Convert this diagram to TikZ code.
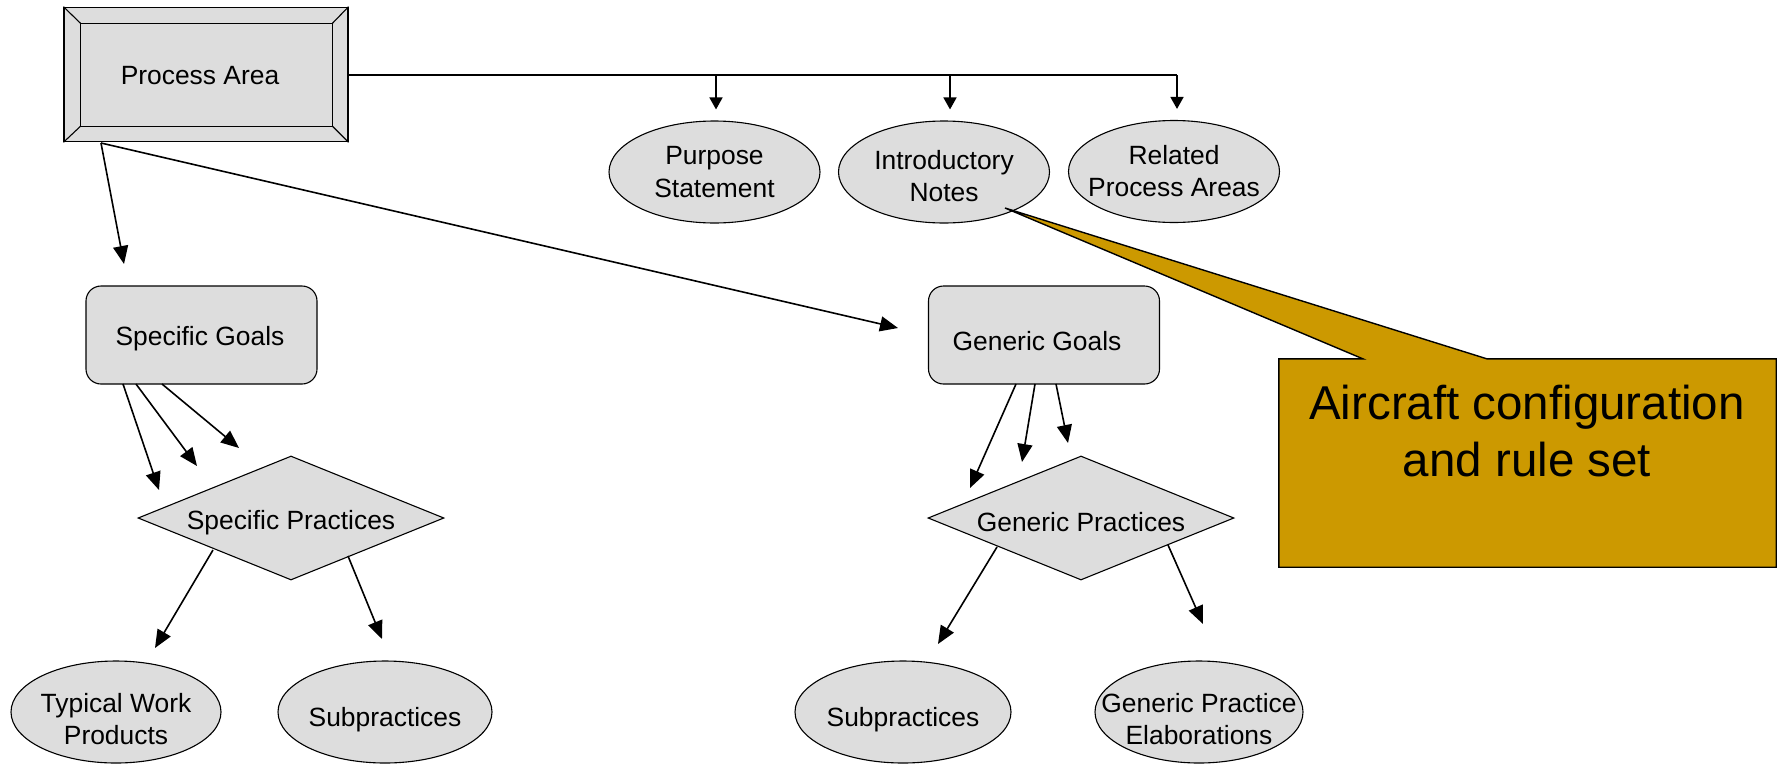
\documentclass[tikz,border=0pt]{standalone}
\usepackage{fontspec}
\setmainfont{Liberation Sans}
\usetikzlibrary{arrows.meta,shapes.geometric,calc}
\definecolor{boxgray}{RGB}{221,221,221}
\definecolor{calloutgold}{RGB}{204,153,0}
\begin{document}
\begin{tikzpicture}[x=1pt,y=-1pt,
  every node/.style={font=\fontsize{26.4}{32.5}\selectfont},
  shapebox/.style={draw, fill=boxgray, line width=1.1pt},
  ell/.style={shapebox, ellipse, minimum width=211pt, minimum height=102pt, inner sep=0pt},
  txt/.style={align=center, inner sep=0pt},
  goal/.style={shapebox, rectangle, rounded corners=15pt, minimum width=231pt, minimum height=98pt, inner sep=0pt},
  prac/.style={shapebox, diamond, aspect=2.47, minimum width=306pt, minimum height=124pt, inner sep=0pt},
  conn/.style={line width=1.6pt, -{Triangle[length=18pt,width=15pt]}},
  topconn/.style={line width=1.6pt, -{Triangle[length=12pt,width=13pt]}},
  plainline/.style={line width=1.3pt},
]
\useasboundingbox (0,0) rectangle (1779,763);

% Process Area (bevelled box)
\node[shapebox, rectangle, minimum width=284pt, minimum height=134.5pt, inner sep=0pt] (pa) at (206,74.5) {};
\coordinate (pa-inw) at ($(pa.north west)+(17,16.5)$);
\coordinate (pa-ine) at ($(pa.north east)+(-16,16.5)$);
\coordinate (pa-ise) at ($(pa.south east)+(-16,-16)$);
\coordinate (pa-isw) at ($(pa.south west)+(17,-16)$);
\draw[line width=1.1pt] (pa-inw) rectangle (pa-ise);
\draw[line width=1.1pt] (pa.north west) -- (pa-inw) (pa.north east) -- (pa-ine)
  (pa.south east) -- (pa-ise) (pa.south west) -- (pa-isw);
\node[txt] (pa-t) at (200,76) {Process Area};

% top ellipses
\node[ell] (ps) at (714.5,172) {};
\node[txt] (ps-t) at (ps) {Purpose\\Statement};
\node[ell] (in) at (944,172) {};
\node[txt] (in-t) at (944,176) {Introductory\\Notes};
\node[ell] (rpa) at (1174,171.5) {};
\node[txt] (rpa-t) at (1174,171) {Related\\Process Areas};

% goals
\node[goal] (sg) at (201.5,335) {};
\node[txt] (sg-t) at (200,339) {Specific Goals};
\node[goal] (gg) at (1044,335) {};
\node[txt] (gg-t) at (1037,341) {Generic Goals};

% practices
\node[prac] (sp) at (291,518) {};
\node[txt] (sp-t) at (291,523) {Specific Practices};
\node[prac] (gp) at (1081,518) {};
\node[txt] (gp-t) at (1081,522.5) {Generic Practices};

% bottom ellipses
\node[ell, minimum width=210pt] (twp) at (116,712) {};
\node[txt] (twp-t) at (116,719) {Typical Work\\Products};
\node[ell, minimum width=214pt] (spl) at (385,712) {};
\node[txt] (spl-t) at (385,720) {Subpractices};
\node[ell, minimum width=216pt] (gsp) at (903,712) {};
\node[txt] (gsp-t) at (903,720) {Subpractices};
\node[ell, minimum width=208pt] (gpe) at (1199,712) {};
\node[txt] (gpe-t) at (1199,719) {Generic Practice\\Elaborations};

% top connector bar
\coordinate (j1) at (716,75);
\coordinate (j2) at (950,75);
\coordinate (j3) at (1177,75);
\draw[plainline] (pa.east |- j1) -- (j3);
\draw[topconn, shorten >=11pt] (j1) -- (j1 |- ps.north);
\draw[topconn, shorten >=11pt] (j2) -- (j2 |- in.north);
\draw[topconn, shorten >=11pt] (j3) -- (j3 |- rpa.north);

% Process Area to goals
\coordinate (pa-o) at (101,143);
\coordinate (sg-in) at (124,264);
\coordinate (gg-in) at (898,328);
\draw[conn] (pa-o) -- (sg-in);
\draw[conn] (pa-o) -- (gg-in);

% Specific goals to practices
\coordinate (sg-o1) at (123,384);
\coordinate (sg-o2) at (136,384);
\coordinate (sg-o3) at (162,384);
\coordinate (sp-i1) at (159,490);
\coordinate (sp-i2) at (197,466);
\coordinate (sp-i3) at (239,448);
\draw[conn] (sg-o1) -- (sp-i1);
\draw[conn] (sg-o2) -- (sp-i2);
\draw[conn] (sg-o3) -- (sp-i3);

% Generic goals to practices
\coordinate (gg-o1) at (1016,384);
\coordinate (gg-o2) at (1035,384);
\coordinate (gg-o3) at (1056,384);
\coordinate (gp-i1) at (970,488);
\coordinate (gp-i2) at (1022,462);
\coordinate (gp-i3) at (1068,443);
\draw[conn] (gg-o1) -- (gp-i1);
\draw[conn] (gg-o2) -- (gp-i2);
\draw[conn] (gg-o3) -- (gp-i3);

% practices to bottom
\coordinate (sp-o1) at (213,550);
\coordinate (sp-o2) at (348,556);
\coordinate (twp-i) at (155,648);
\coordinate (spl-i) at (382,639);
\draw[conn] (sp-o1) -- (twp-i);
\draw[conn] (sp-o2) -- (spl-i);
\coordinate (gp-o1) at (997,547);
\coordinate (gp-o2) at (1168,545);
\coordinate (gsp-i) at (938,644);
\coordinate (gpe-i) at (1203,624);
\draw[conn] (gp-o1) -- (gsp-i);
\draw[conn] (gp-o2) -- (gpe-i);

% callout
\coordinate (tip) at (1005,208);
\node[rectangle, minimum width=497pt, minimum height=208pt, inner sep=0pt] (cb) at (1527.5,463) {};
\filldraw[fill=calloutgold, draw=black, line width=1.4pt, line join=miter]
  (cb.north west) -- ($(cb.north west)+(84,0)$) -- (tip) -- ($(cb.north west)+(208,0)$)
  -- (cb.north east) -- (cb.south east) -- (cb.south west) -- cycle;
\node[align=center, inner sep=0pt, font=\fontsize{47.5}{57}\selectfont] (cb-t) at (1527,431) {Aircraft configuration\\and rule set};
\end{tikzpicture}
\end{document}
